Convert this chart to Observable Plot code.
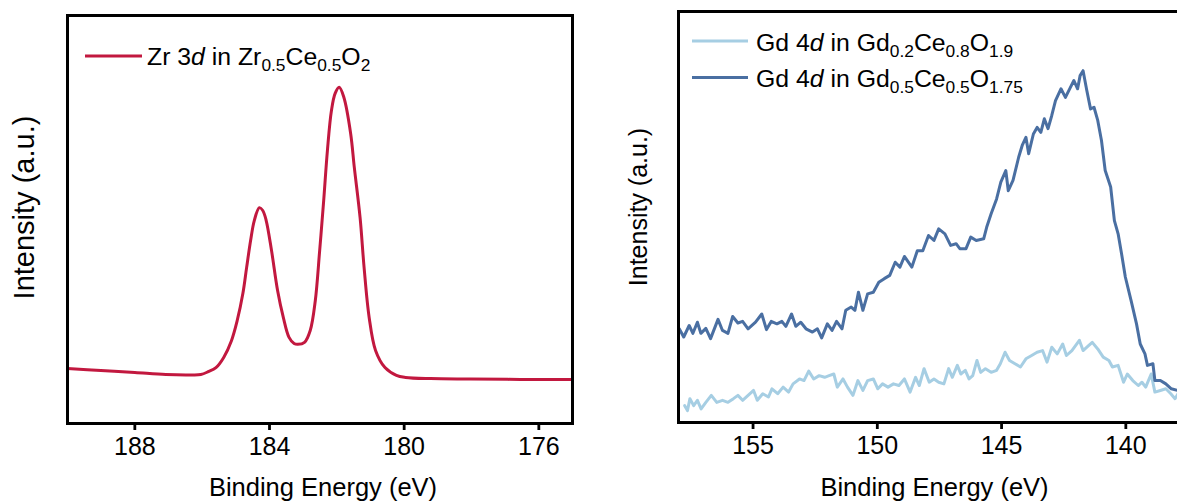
<!DOCTYPE html>
<html>
<head>
<meta charset="utf-8">
<script src="https://cdn.jsdelivr.net/npm/d3@7"></script>
<script src="https://cdn.jsdelivr.net/npm/@observablehq/plot@0.6"></script>
<style>
  html, body { margin: 0; padding: 0; background: #fff; overflow: hidden; }
  #fig { position: relative; width: 1177px; height: 501px; overflow: hidden; }
  #fig > svg { position: absolute; top: 0; }
</style>
</head>
<body>
<div id="fig"></div>
<script>
// ---- Zr 3d spectrum of Zr0.5Ce0.5O2 (binding energy in eV, intensity in a.u.) ----
const zrEnergy = [190.00, 189.01, 188.00, 187.08, 186.34, 186.04, 185.82, 185.59, 185.36, 185.13,
  184.96, 184.79, 184.68, 184.56, 184.45, 184.30, 184.20, 184.10, 183.94, 183.76,
  183.59, 183.42, 183.27, 183.16, 182.96, 182.79, 182.64, 182.51, 182.39, 182.28,
  182.16, 182.05, 181.93, 181.79, 181.59, 181.48, 181.31, 181.19, 181.04, 180.85,
  180.57, 180.23, 179.96, 179.22, 178.03, 176.55, 175.00];
const zrIntensity = [13.5, 13.0, 12.5, 12.0, 11.9, 12.0, 12.7, 13.7, 16.2, 20.3,
  25.2, 31.9, 38.2, 44.9, 49.8, 52.9, 52.2, 49.8, 42.4, 32.6,
  26.0, 21.1, 19.6, 19.4, 19.9, 22.8, 30.1, 42.4, 54.7, 66.9,
  76.7, 80.9, 82.4, 79.9, 71.1, 62.7, 50.5, 38.2, 26.0, 17.9,
  13.7, 11.8, 11.3, 11.0, 10.9, 10.8, 10.8];
const zrTicks = [188, 184, 180, 176];

// ---- Gd 4d spectra: [binding energy, intensity] ----
const gd02 = [
  [157.75, 4.1], [157.64, 2.9], [157.54, 5.8], [157.39, 4.1], [157.24, 5.4], [157.09, 3.3],
  [156.90, 4.9], [156.68, 6.6], [156.46, 4.9], [156.23, 5.4], [156.01, 4.9], [155.79, 5.8],
  [155.61, 6.6], [155.42, 5.4], [155.20, 6.6], [154.98, 7.8], [154.83, 5.4], [154.61, 7.0],
  [154.38, 6.2], [154.24, 8.2], [154.01, 7.0], [153.79, 8.6], [153.57, 7.4], [153.39, 9.4],
  [153.13, 10.6], [152.95, 10.2], [152.76, 12.5], [152.56, 10.6], [152.34, 11.4], [152.12, 11.0],
  [151.94, 11.4], [151.75, 11.8], [151.61, 8.6], [151.38, 10.6], [151.20, 8.6], [150.98, 6.6],
  [150.78, 10.2], [150.58, 7.8], [150.39, 10.2], [150.16, 10.6], [149.98, 8.2], [149.79, 9.4],
  [149.57, 8.6], [149.35, 9.4], [149.13, 9.0], [148.91, 10.6], [148.68, 7.4], [148.46, 11.0],
  [148.31, 9.0], [148.12, 13.1], [147.91, 9.8], [147.72, 10.6], [147.53, 9.8], [147.32, 9.4],
  [147.13, 13.1], [146.98, 11.0], [146.78, 13.9], [146.64, 11.8], [146.46, 12.7], [146.31, 10.6],
  [146.16, 11.4], [145.99, 15.1], [145.84, 12.2], [145.65, 13.1], [145.42, 12.2], [145.20, 12.7],
  [145.05, 14.3], [144.86, 17.1], [144.68, 15.1], [144.46, 14.3], [144.24, 13.5], [144.02, 15.5],
  [143.79, 16.3], [143.57, 17.1], [143.35, 17.5], [143.17, 14.7], [142.98, 18.3], [142.76, 16.7],
  [142.54, 19.1], [142.39, 16.3], [142.17, 17.5], [141.87, 20.0], [141.72, 17.5], [141.50, 18.7],
  [141.35, 19.5], [141.13, 17.9], [140.91, 15.9], [140.68, 15.1], [140.54, 13.5], [140.31, 13.9],
  [140.09, 9.8], [139.94, 11.8], [139.72, 10.2], [139.50, 9.0], [139.35, 9.8], [139.20, 8.6],
  [138.98, 11.8], [138.83, 7.4], [138.61, 7.8], [138.39, 8.2], [138.19, 7.0], [138.02, 5.8],
  [137.90, 7.0]
];
const gd05 = [
  [157.97, 22.8], [157.79, 20.8], [157.57, 23.6], [157.42, 21.7], [157.24, 24.4], [157.10, 21.7],
  [156.90, 22.9], [156.71, 20.4], [156.41, 25.1], [156.23, 22.4], [156.01, 21.7], [155.82, 25.8],
  [155.61, 24.2], [155.42, 24.6], [155.20, 22.8], [154.90, 24.4], [154.65, 26.4], [154.46, 22.6],
  [154.27, 24.6], [154.04, 24.0], [153.84, 24.6], [153.68, 23.4], [153.45, 26.4], [153.28, 23.4],
  [153.08, 24.4], [152.87, 22.8], [152.61, 22.0], [152.41, 22.8], [152.24, 20.6], [152.01, 24.0],
  [151.82, 22.4], [151.64, 24.6], [151.42, 22.8], [151.27, 27.3], [151.05, 28.1], [150.90, 27.3],
  [150.76, 31.7], [150.58, 27.3], [150.39, 31.3], [150.16, 31.7], [149.94, 34.1], [149.72, 35.0],
  [149.50, 35.8], [149.28, 39.0], [149.09, 37.8], [148.91, 40.4], [148.61, 37.8], [148.39, 41.8],
  [148.17, 41.8], [147.94, 45.5], [147.72, 44.3], [147.53, 47.1], [147.28, 45.9], [147.05, 43.1],
  [146.83, 43.5], [146.68, 42.3], [146.43, 42.3], [146.24, 45.1], [146.02, 44.3], [145.72, 44.7],
  [145.60, 47.5], [145.42, 50.8], [145.20, 54.4], [145.03, 58.5], [144.83, 61.3], [144.73, 56.4],
  [144.54, 58.9], [144.31, 64.6], [144.17, 67.4], [144.02, 69.4], [143.91, 65.4], [143.72, 70.2],
  [143.57, 71.8], [143.42, 70.6], [143.28, 73.9], [143.13, 71.5], [142.98, 74.7], [142.83, 78.3],
  [142.61, 81.2], [142.43, 79.1], [142.24, 81.4], [142.09, 83.2], [141.94, 81.2], [141.84, 84.4],
  [141.72, 85.6], [141.57, 80.8], [141.42, 76.3], [141.28, 76.7], [141.13, 73.5], [140.98, 68.6],
  [140.83, 61.3], [140.61, 57.3], [140.46, 49.1], [140.31, 45.9], [140.17, 41.0], [140.02, 35.4],
  [139.79, 29.7], [139.57, 24.0], [139.42, 19.1], [139.23, 16.7], [139.13, 13.9], [138.91, 14.3],
  [138.83, 10.2], [138.61, 10.2], [138.39, 9.4], [138.17, 8.2], [137.90, 7.8]
];
const gdTicks = [155, 150, 145, 140];

const zr = zrEnergy.map((e, i) => ({energy: e, intensity: zrIntensity[i]}));
const gdSeries = [
  {name: "Gd0.2Ce0.8O1.9", color: "#A6CEE3", points: gd02},
  {name: "Gd0.5Ce0.5O1.75", color: "#4A6FA2", points: gd05}
];
const gd = gdSeries.flatMap(s => s.points.map(([e, v]) => ({series: s.name, energy: e, intensity: v})));

const font = "'Liberation Sans', Arial, Helvetica, sans-serif";
const baseStyle = {fontFamily: font, background: "transparent", color: "#000", overflow: "visible"};

// Legend rows drawn inside the plot frame; labels carry <i> and <sub> markup.
function addLegend(svg, rows, opts) {
  const g = d3.select(svg).append("g")
    .attr("font-family", font).attr("font-size", opts.fontSize)
    .attr("fill", "#000").attr("text-anchor", "start");
  rows.forEach((row, k) => {
    const y = opts.y + k * opts.rowGap;
    g.append("line")
      .attr("x1", opts.x0).attr("x2", opts.x1)
      .attr("y1", y).attr("y2", y)
      .attr("stroke", row.color).attr("stroke-width", 3);
    const t = g.append("text").attr("x", opts.tx).attr("y", y + opts.baseline);
    let shift = 0;
    row.label.split(/(<i>.*?<\/i>|<sub>.*?<\/sub>)/).filter(s => s).forEach(part => {
      const span = t.append("tspan");
      if (part.startsWith("<i>")) {
        span.text(part.slice(3, -4)).attr("font-style", "italic").attr("dy", -shift);
        shift = 0;
      } else if (part.startsWith("<sub>")) {
        span.text(part.slice(5, -6)).attr("font-size", opts.fontSize * 0.7).attr("dy", opts.subShift - shift);
        shift = opts.subShift;
      } else {
        span.text(part).attr("dy", -shift);
        shift = 0;
      }
    });
  });
}

// ---- left panel ----
const leftPlot = Plot.plot({
  width: 600, height: 501,
  marginLeft: 67, marginRight: 28, marginTop: 15, marginBottom: 78,
  style: baseStyle,
  x: {domain: [190, 175]},
  y: {domain: [0, 100], axis: null},
  marks: [
    Plot.line(zr, {x: "energy", y: "intensity", stroke: "#C2183F", strokeWidth: 3, curve: "catmull-rom"}),
    Plot.frame({stroke: "#000", strokeWidth: 3}),
    Plot.axisX({ticks: zrTicks, tickSize: 7, tickPadding: 7, fontSize: 25, strokeWidth: 2.8, label: null, tickFormat: d => String(d)}),
    Plot.text(["Intensity (a.u.)"], {frameAnchor: "left", textAnchor: "middle", rotate: -90, dx: -43, dy: -12, fontSize: 29, fill: "#000"}),
    Plot.text(["Binding Energy (eV)"], {frameAnchor: "bottom", textAnchor: "middle", lineAnchor: "top", dx: 3, dy: 54, fontSize: 25.5, fill: "#000"})
  ]
});
leftPlot.style.left = "0px";
addLegend(leftPlot, [
  {color: "#C2183F", label: "Zr 3<i>d</i> in Zr<sub>0.5</sub>Ce<sub>0.5</sub>O<sub>2</sub>"}
], {x0: 85, x1: 142, tx: 147, y: 56, rowGap: 0, baseline: 9, fontSize: 24.8, subShift: 6});

// ---- right panel (its right edge runs past the page) ----
const rightPlot = Plot.plot({
  width: 580, height: 501,
  marginLeft: 78, marginRight: 0, marginTop: 11, marginBottom: 79,
  style: baseStyle,
  x: {domain: [158, 137.8]},
  y: {domain: [0, 100], axis: null},
  color: {domain: gdSeries.map(s => s.name), range: gdSeries.map(s => s.color)},
  marks: [
    Plot.line(gd, {x: "energy", y: "intensity", z: "series", stroke: "series", strokeWidth: 3}),
    Plot.frame({stroke: "#000", strokeWidth: 3}),
    Plot.axisX({ticks: gdTicks, tickSize: 7, tickPadding: 7, fontSize: 25, strokeWidth: 2.8, label: null, tickFormat: d => String(d)}),
    Plot.text(["Intensity (a.u.)"], {frameAnchor: "left", textAnchor: "middle", rotate: -90, dx: -40, dy: -10, fontSize: 25, fill: "#000"}),
    Plot.text(["Binding Energy (eV)"], {frameAnchor: "bottom-left", textAnchor: "middle", lineAnchor: "top", dx: 256, dy: 55, fontSize: 25.5, fill: "#000"})
  ]
});
rightPlot.style.left = "600px";
addLegend(rightPlot, [
  {color: gdSeries[0].color, label: "Gd 4<i>d</i> in Gd<sub>0.2</sub>Ce<sub>0.8</sub>O<sub>1.9</sub>"},
  {color: gdSeries[1].color, label: "Gd 4<i>d</i> in Gd<sub>0.5</sub>Ce<sub>0.5</sub>O<sub>1.75</sub>"}
], {x0: 92, x1: 148, tx: 156, y: 41, rowGap: 36.5, baseline: 9.5, fontSize: 24.8, subShift: 6});

const fig = document.getElementById("fig");
fig.append(leftPlot, rightPlot);
</script>
</body>
</html>
